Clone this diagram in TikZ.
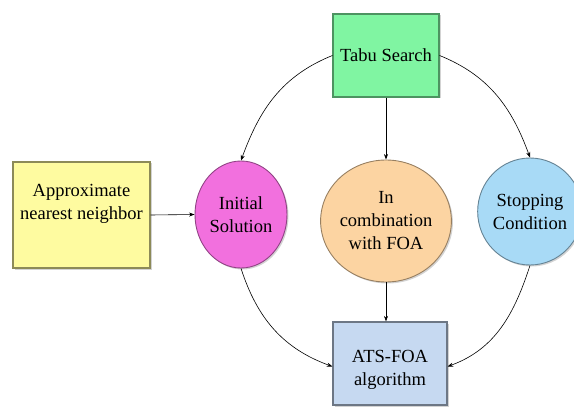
\documentclass[tikz,border=0pt]{standalone}
\usepackage{fontspec}
\setmainfont{Liberation Serif}
\usetikzlibrary{shapes.geometric,shadows,arrows.meta}
\begin{document}
\begin{tikzpicture}[x=1pt,y=1pt,
  every node/.style={font=\fontsize{18.5}{23}\selectfont, align=center, inner sep=0pt},
  boxnode/.style={rectangle, line width=1.2pt, drop shadow={shadow xshift=1.5pt, shadow yshift=-1.5pt, opacity=0.35}},
  ellnode/.style={ellipse, line width=0.9pt, drop shadow={shadow xshift=1.5pt, shadow yshift=-1.5pt, opacity=0.35}},
  conn/.style={line width=0.6pt, -{Stealth[length=5.5pt,width=4pt]}}
]
\definecolor{tabug}{HTML}{80F5A2}
\definecolor{approxy}{HTML}{FEFBA0}
\definecolor{initp}{HTML}{F270DE}
\definecolor{combo}{HTML}{FCD4A2}
\definecolor{stopb}{HTML}{A8DAF6}
\definecolor{atsb}{HTML}{C6D9F1}
\useasboundingbox (0,0) rectangle (574,408);

\node[boxnode, fill=tabug, draw=tabug!60!black, minimum width=106pt, minimum height=83pt] (tabu) at (386,352.5) {Tabu Search};
\node[boxnode, fill=approxy, draw=approxy!55!black, minimum width=137pt, minimum height=106pt] (approx) at (81.5,193) {};
\node (approxtxt) at ([yshift=11pt]approx.center) {Approximate\\nearest neighbor};
\node[ellnode, fill=initp, draw=initp!60!black, minimum width=92pt, minimum height=107pt] (init) at (241,193.5) {Initial\\Solution};
\node[ellnode, fill=combo, draw=combo!60!black, minimum width=106pt, minimum height=122pt] (comb) at (386,187) {In\\combination\\with FOA};
\node[ellnode, fill=stopb, draw=stopb!60!black, minimum width=86pt, minimum height=107pt] (stop) at (530,196.5) {Stopping\\Condition};
\node[boxnode, fill=atsb, draw=atsb!55!black, minimum width=114pt, minimum height=83pt] (ats) at (390,44.5) {};
\node (atstxt) at ([yshift=-6pt]ats.center) {ATS-FOA\\algorithm};

\draw[conn] (approx.east) -- (init.west);
\draw[conn] (tabu.west) to[out=202,in=70] (init.north);
\draw[conn] (tabu.east) to[out=-22,in=110] (stop.north);
\draw[conn] (tabu.south) -- (comb.north);
\draw[conn] (comb.south) -- (comb.south |- ats.north);
\draw[conn] (init.south) to[out=-72,in=160] ([yshift=-3pt]ats.west);
\draw[conn] (stop.south) to[out=-108,in=20] ([yshift=-3pt]ats.east);
\end{tikzpicture}
\end{document}
